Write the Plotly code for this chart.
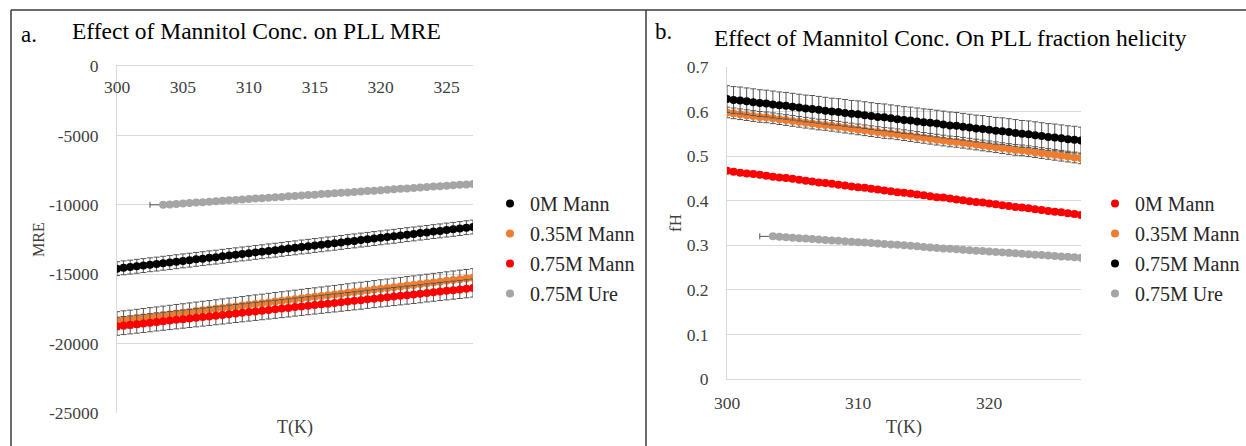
import plotly.graph_objects as go

W, H = 1246, 446
FONT = "Liberation Serif"

# ---------------- data ----------------
T = [300.0, 300.5, 301.0, 301.5, 302.0, 302.5, 303.0, 303.5, 304.0, 304.5,
     305.0, 305.5, 306.0, 306.5, 307.0, 307.5, 308.0, 308.5, 309.0, 309.5,
     310.0, 310.5, 311.0, 311.5, 312.0, 312.5, 313.0, 313.5, 314.0, 314.5,
     315.0, 315.5, 316.0, 316.5, 317.0, 317.5, 318.0, 318.5, 319.0, 319.5,
     320.0, 320.5, 321.0, 321.5, 322.0, 322.5, 323.0, 323.5, 324.0, 324.5,
     325.0, 325.5, 326.0, 326.5, 327.0]
T_URE = T[7:]  # urea series starts at 303.5 K

# Panel a: MRE
MRE_0M = [-14600, -14540, -14490, -14430, -14380, -14320, -14270, -14210, -14160, -14100,
          -14040, -13990, -13930, -13880, -13820, -13770, -13710, -13650, -13600, -13540,
          -13490, -13430, -13380, -13320, -13270, -13210, -13150, -13100, -13040, -12990,
          -12930, -12880, -12820, -12770, -12710, -12650, -12600, -12540, -12490, -12430,
          -12380, -12320, -12270, -12210, -12150, -12100, -12040, -11990, -11930, -11880,
          -11820, -11770, -11710, -11650, -11600]
MRE_035M = [-18350, -18290, -18240, -18180, -18120, -18060, -18010, -17950, -17890, -17830,
            -17780, -17720, -17660, -17600, -17550, -17490, -17430, -17370, -17320, -17260,
            -17200, -17140, -17090, -17030, -16970, -16910, -16860, -16800, -16740, -16680,
            -16630, -16570, -16510, -16460, -16400, -16340, -16280, -16230, -16170, -16110,
            -16050, -16000, -15940, -15880, -15820, -15770, -15710, -15650, -15590, -15540,
            -15480, -15420, -15360, -15310, -15250]
MRE_075M = [-18750, -18700, -18650, -18600, -18550, -18500, -18440, -18390, -18340, -18290,
            -18240, -18190, -18140, -18090, -18040, -17990, -17940, -17880, -17830, -17780,
            -17730, -17680, -17630, -17580, -17530, -17480, -17430, -17370, -17320, -17270,
            -17220, -17170, -17120, -17070, -17020, -16970, -16920, -16870, -16810, -16760,
            -16710, -16660, -16610, -16560, -16510, -16460, -16410, -16350, -16300, -16250,
            -16200, -16150, -16100, -16050, -16000]
MRE_URE = [-10000, -9970, -9940, -9900, -9870, -9840, -9810, -9780, -9740, -9710,
           -9680, -9650, -9620, -9590, -9550, -9520, -9490, -9460, -9430, -9390,
           -9360, -9330, -9300, -9270, -9230, -9200, -9170, -9140, -9110, -9070,
           -9040, -9010, -8980, -8950, -8920, -8880, -8850, -8820, -8790, -8760,
           -8720, -8690, -8660, -8630, -8600, -8560, -8530, -8500]
MRE_ERR = {"0M": 500, "0.35M": 650, "0.75M": 650, "Ure": 120}

# Panel b: fraction helicity
FH_0M = [0.467, 0.465, 0.463, 0.461, 0.460, 0.458, 0.456, 0.454, 0.452, 0.451,
         0.449, 0.447, 0.445, 0.443, 0.441, 0.440, 0.438, 0.436, 0.434, 0.432,
         0.430, 0.429, 0.427, 0.425, 0.423, 0.421, 0.419, 0.418, 0.416, 0.414,
         0.412, 0.410, 0.408, 0.407, 0.405, 0.403, 0.401, 0.399, 0.397, 0.396,
         0.394, 0.392, 0.390, 0.388, 0.386, 0.385, 0.383, 0.381, 0.379, 0.377,
         0.375, 0.374, 0.372, 0.370, 0.368]
FH_035M = [0.598, 0.596, 0.594, 0.592, 0.590, 0.588, 0.587, 0.585, 0.583, 0.581,
           0.579, 0.577, 0.575, 0.573, 0.571, 0.570, 0.568, 0.566, 0.564, 0.562,
           0.560, 0.558, 0.556, 0.554, 0.552, 0.551, 0.549, 0.547, 0.545, 0.543,
           0.541, 0.539, 0.537, 0.535, 0.533, 0.532, 0.530, 0.528, 0.526, 0.524,
           0.522, 0.520, 0.518, 0.516, 0.514, 0.513, 0.511, 0.509, 0.507, 0.505,
           0.503, 0.501, 0.499, 0.497, 0.495]
FH_075M = [0.628, 0.626, 0.625, 0.623, 0.621, 0.619, 0.618, 0.616, 0.614, 0.613,
           0.611, 0.609, 0.607, 0.606, 0.604, 0.602, 0.600, 0.599, 0.597, 0.595,
           0.594, 0.592, 0.590, 0.588, 0.587, 0.585, 0.583, 0.581, 0.580, 0.578,
           0.576, 0.575, 0.573, 0.571, 0.569, 0.568, 0.566, 0.564, 0.562, 0.561,
           0.559, 0.557, 0.556, 0.554, 0.552, 0.550, 0.549, 0.547, 0.545, 0.543,
           0.542, 0.540, 0.538, 0.537, 0.535]
FH_URE = [0.320, 0.319, 0.318, 0.317, 0.316, 0.315, 0.314, 0.313, 0.312, 0.311,
          0.310, 0.309, 0.308, 0.307, 0.306, 0.305, 0.304, 0.303, 0.302, 0.301,
          0.300, 0.299, 0.298, 0.296, 0.295, 0.294, 0.293, 0.292, 0.291, 0.290,
          0.289, 0.288, 0.287, 0.286, 0.285, 0.284, 0.283, 0.282, 0.281, 0.280,
          0.279, 0.278, 0.277, 0.276, 0.275, 0.274, 0.273, 0.272]
FH_ERR = {"0M": 0.006, "0.35M": 0.012, "0.75M": 0.03, "Ure": 0.004}
URE_T_ERR_FIRST = 1.0  # horizontal error bar on first urea point

MRE_TICKS = [0, -5000, -10000, -15000, -20000, -25000]
MRE_TICKTEXT = ["0", "-5000", "-10000", "-15000", "-20000", "-25000"]
TA_TICKS = [300, 305, 310, 315, 320, 325]
FH_TICKS = [0, 0.1, 0.2, 0.3, 0.4, 0.5, 0.6, 0.7]
FH_TICKTEXT = ["0", "0.1", "0.2", "0.3", "0.4", "0.5", "0.6", "0.7"]
TB_TICKS = [300, 310, 320]

# ---------------- styles ----------------
BLACK, ORANGE, RED, GRAY = "#000000", "#ED7D31", "#FF0000", "#A5A5A5"
ERRC = "#555555"
GRID = "#d9d9d9"


def px_x(v):
    return v / W


def px_y(v):
    return 1 - v / H


ure_xerr_minus = [URE_T_ERR_FIRST] + [0] * (len(T_URE) - 1)
ure_xerr_plus = [0] * len(T_URE)


def add(fig, x, y, err, name, color, xa, ya, legend, group, xerr=False):
    kw = {}
    if xerr:
        kw["error_x"] = dict(type="data", symmetric=False, array=ure_xerr_plus,
                             arrayminus=ure_xerr_minus, color=ERRC, thickness=1, width=3)
    fig.add_trace(go.Scatter(
        x=x, y=y, mode="markers", name=name,
        marker=dict(color=color, size=8),
        error_y=dict(type="constant", value=err, color=ERRC, thickness=1, width=3),
        xaxis=xa, yaxis=ya, legend=legend, legendgroup=group, **kw))


fig = go.Figure()
# panel a
add(fig, T, MRE_0M, MRE_ERR["0M"], "0M Mann", BLACK, "x", "y", "legend", "a1")
add(fig, T, MRE_035M, MRE_ERR["0.35M"], "0.35M Mann", ORANGE, "x", "y", "legend", "a2")
add(fig, T, MRE_075M, MRE_ERR["0.75M"], "0.75M Mann", RED, "x", "y", "legend", "a3")
add(fig, T_URE, MRE_URE, MRE_ERR["Ure"], "0.75M Ure", GRAY, "x", "y", "legend", "a4", xerr=True)
# panel b
add(fig, T, FH_0M, FH_ERR["0M"], "0M Mann", RED, "x2", "y2", "legend2", "b1")
add(fig, T, FH_035M, FH_ERR["0.35M"], "0.35M Mann", ORANGE, "x2", "y2", "legend2", "b2")
add(fig, T, FH_075M, FH_ERR["0.75M"], "0.75M Mann", BLACK, "x2", "y2", "legend2", "b3")
add(fig, T_URE, FH_URE, FH_ERR["Ure"], "0.75M Ure", GRAY, "x2", "y2", "legend2", "b4", xerr=True)

tickfont = dict(family=FONT, size=17.5, color="#404040")

fig.update_layout(
    width=W, height=H,
    margin=dict(l=0, r=0, t=0, b=0, autoexpand=False),
    paper_bgcolor="white", plot_bgcolor="white",
    font=dict(family=FONT, color="#262626"),
    xaxis=dict(domain=[px_x(117), px_x(473)], range=[300, 327], anchor="y",
               side="top", ticklabelposition="inside", ticklabeloverflow="allow",
               tickvals=TA_TICKS, ticktext=[str(v) for v in TA_TICKS],
               tickfont=tickfont, showgrid=False, zeroline=False, automargin=False,
               showline=True, linecolor=GRID, linewidth=1, ticks="", ticklabelstandoff=15),
    yaxis=dict(domain=[px_y(413), px_y(66)], range=[-25000, 0], anchor="x",
               tickvals=MRE_TICKS, ticktext=MRE_TICKTEXT, tickfont=tickfont,
               showgrid=True, gridcolor=GRID, automargin=False, ticklabeloverflow="allow",
               zeroline=False, showline=True, linecolor=GRID, linewidth=1,
               ticks="", ticklabelstandoff=14),
    xaxis2=dict(domain=[px_x(727), px_x(1081)], range=[300, 327], anchor="y2",
                tickvals=TB_TICKS, ticktext=[str(v) for v in TB_TICKS],
                tickfont=tickfont, showgrid=False, zeroline=False, automargin=False,
                showline=True, linecolor=GRID, linewidth=1, ticks="", ticklabelstandoff=8),
    yaxis2=dict(domain=[px_y(379), px_y(67)], range=[0, 0.7], anchor="x2",
                tickvals=FH_TICKS, ticktext=FH_TICKTEXT, tickfont=tickfont, showgrid=True,
                gridcolor=GRID, zeroline=False, showline=True, linecolor=GRID, linewidth=1,
                automargin=False, ticks="", ticklabelstandoff=14),
    legend=dict(x=px_x(490), y=px_y(184), xanchor="left", yanchor="top",
                font=dict(family=FONT, size=20, color="#262626"),
                bgcolor="rgba(0,0,0,0)", itemwidth=30, tracegroupgap=1),
    legend2=dict(x=px_x(1095), y=px_y(184), xanchor="left", yanchor="top",
                 font=dict(family=FONT, size=20, color="#262626"),
                 bgcolor="rgba(0,0,0,0)", itemwidth=30, tracegroupgap=1),
    showlegend=True,
)

# frame lines
line = dict(color="#3a3a3a", width=1.5)
fig.add_shape(type="line", xref="paper", yref="paper", x0=px_x(11), x1=1, y0=px_y(10), y1=px_y(10), line=line)
fig.add_shape(type="line", xref="paper", yref="paper", x0=px_x(11), x1=px_x(11), y0=px_y(10), y1=0, line=line)
fig.add_shape(type="line", xref="paper", yref="paper", x0=px_x(646), x1=px_x(646), y0=px_y(10), y1=0, line=line)


def ann(text, x, y, size, xanchor="left", angle=0, color="#000000"):
    fig.add_annotation(text=text, xref="paper", yref="paper", x=px_x(x), y=px_y(y),
                       xanchor=xanchor, yanchor="middle", showarrow=False, textangle=angle,
                       font=dict(family=FONT, size=size, color=color))


ann("a.", 19, 34, 23)
ann("Effect of Mannitol Conc. on PLL MRE", 70, 31, 23.5)
ann("b.", 653, 32, 23)
ann("Effect of Mannitol Conc. On PLL fraction helicity", 712, 38, 23.5)
ann("MRE", 38, 240, 16, xanchor="center", angle=-90, color="#404040")
ann("T(K)", 295, 427, 18, xanchor="center", color="#404040")
ann("fH", 675, 223, 17, xanchor="center", angle=-90, color="#404040")
ann("T(K)", 904, 427, 18, xanchor="center", color="#404040")

fig.write_html("out.html")
